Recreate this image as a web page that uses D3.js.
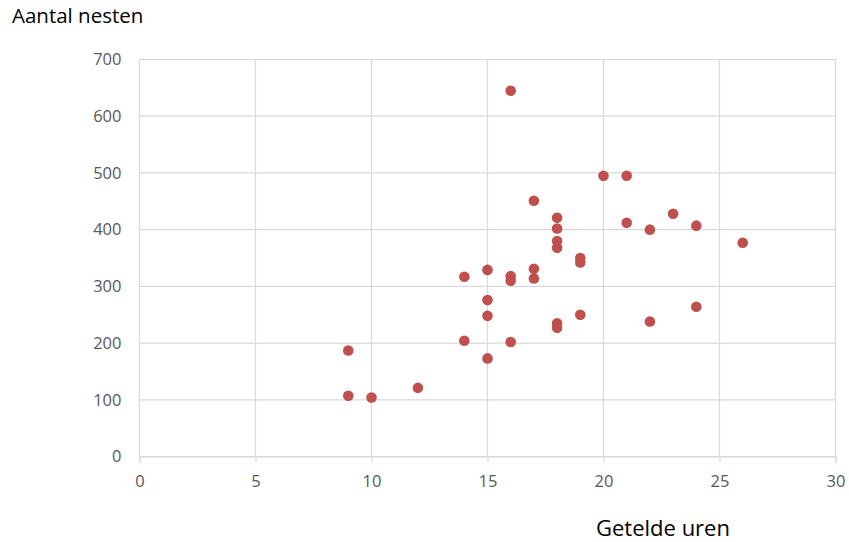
<!DOCTYPE html>
<html>
<head>
<meta charset="utf-8">
<script src="https://cdn.jsdelivr.net/npm/d3@7"></script>
<style>
  html, body { margin: 0; padding: 0; background: #fff; }
  svg { display: block; }
</style>
</head>
<body>
<svg id="chart" width="849" height="542"></svg>
<script>
// Data: Getelde uren (x) vs Aantal nesten (y)
const hours = [16, 20, 21, 17, 18, 18, 21, 18, 18, 19, 19, 14, 15, 16, 16, 17, 17, 15, 15, 19, 18, 18, 14, 16, 15, 9, 9, 10, 12, 22, 23, 24, 26, 24, 22];
const nests = [645, 495, 495, 451, 421, 402, 412, 380, 368, 350, 342, 317, 329, 318, 310, 331, 314, 276, 248, 250, 235, 227, 204, 202, 173, 187, 107, 104, 121, 400, 428, 407, 377, 264, 238];
const xTicks = [0, 5, 10, 15, 20, 25, 30];
const yTicks = [0, 100, 200, 300, 400, 500, 600, 700];
const xTitle = "Getelde uren";
const yTitle = "Aantal nesten";

const svg = d3.select("#chart");
const mLeft = 139.5, mRight = 835.5, mTop = 59.5, mBottom = 456.5;

const x = d3.scaleLinear().domain([0, 30]).range([mLeft, mRight]);
const y = d3.scaleLinear().domain([0, 700]).range([mBottom, mTop]);

const font = "'Open Sans', 'Liberation Sans', sans-serif";
const grid = "#d9d9d9";

// horizontal gridlines
svg.append("g").selectAll("line").data(yTicks).join("line")
  .attr("x1", mLeft).attr("x2", mRight)
  .attr("y1", d => y(d)).attr("y2", d => y(d))
  .attr("stroke", grid).attr("stroke-width", 1.2);

// vertical gridlines
svg.append("g").selectAll("line").data(xTicks).join("line")
  .attr("x1", d => x(d)).attr("x2", d => x(d))
  .attr("y1", mTop).attr("y2", mBottom)
  .attr("stroke", grid).attr("stroke-width", 1.2);

// x axis with ticks
const xAxis = d3.axisBottom(x).tickValues(xTicks).tickSize(6).tickPadding(13);
const gx = svg.append("g").attr("transform", `translate(0,${mBottom})`).call(xAxis);
gx.select(".domain").attr("stroke", grid).attr("stroke-width", 1.2);
gx.selectAll(".tick line").attr("stroke", grid).attr("stroke-width", 1.2);
gx.selectAll(".tick text").attr("fill", "#595959").style("font-family", font).style("font-size", "16.5px");

// y axis labels
const yAxis = d3.axisLeft(y).tickValues(yTicks).tickSize(0).tickPadding(18);
const gy = svg.append("g").attr("transform", `translate(${mLeft},0)`).call(yAxis);
gy.select(".domain").remove();
gy.selectAll(".tick text").attr("fill", "#595959").style("font-family", font).style("font-size", "16.5px");

// points
svg.append("g").selectAll("circle").data(hours.map((h, i) => [h, nests[i]])).join("circle")
  .attr("cx", d => x(d[0])).attr("cy", d => y(d[1]))
  .attr("r", 5.3)
  .attr("fill", "#C0504D");

// titles
svg.append("text").attr("x", 12).attr("y", 23)
  .style("font-family", font).style("font-size", "20.5px").attr("fill", "#000")
  .text(yTitle);
svg.append("text").attr("x", 596).attr("y", 536)
  .style("font-family", font).style("font-size", "22px").attr("fill", "#000")
  .text(xTitle);
</script>
</body>
</html>
